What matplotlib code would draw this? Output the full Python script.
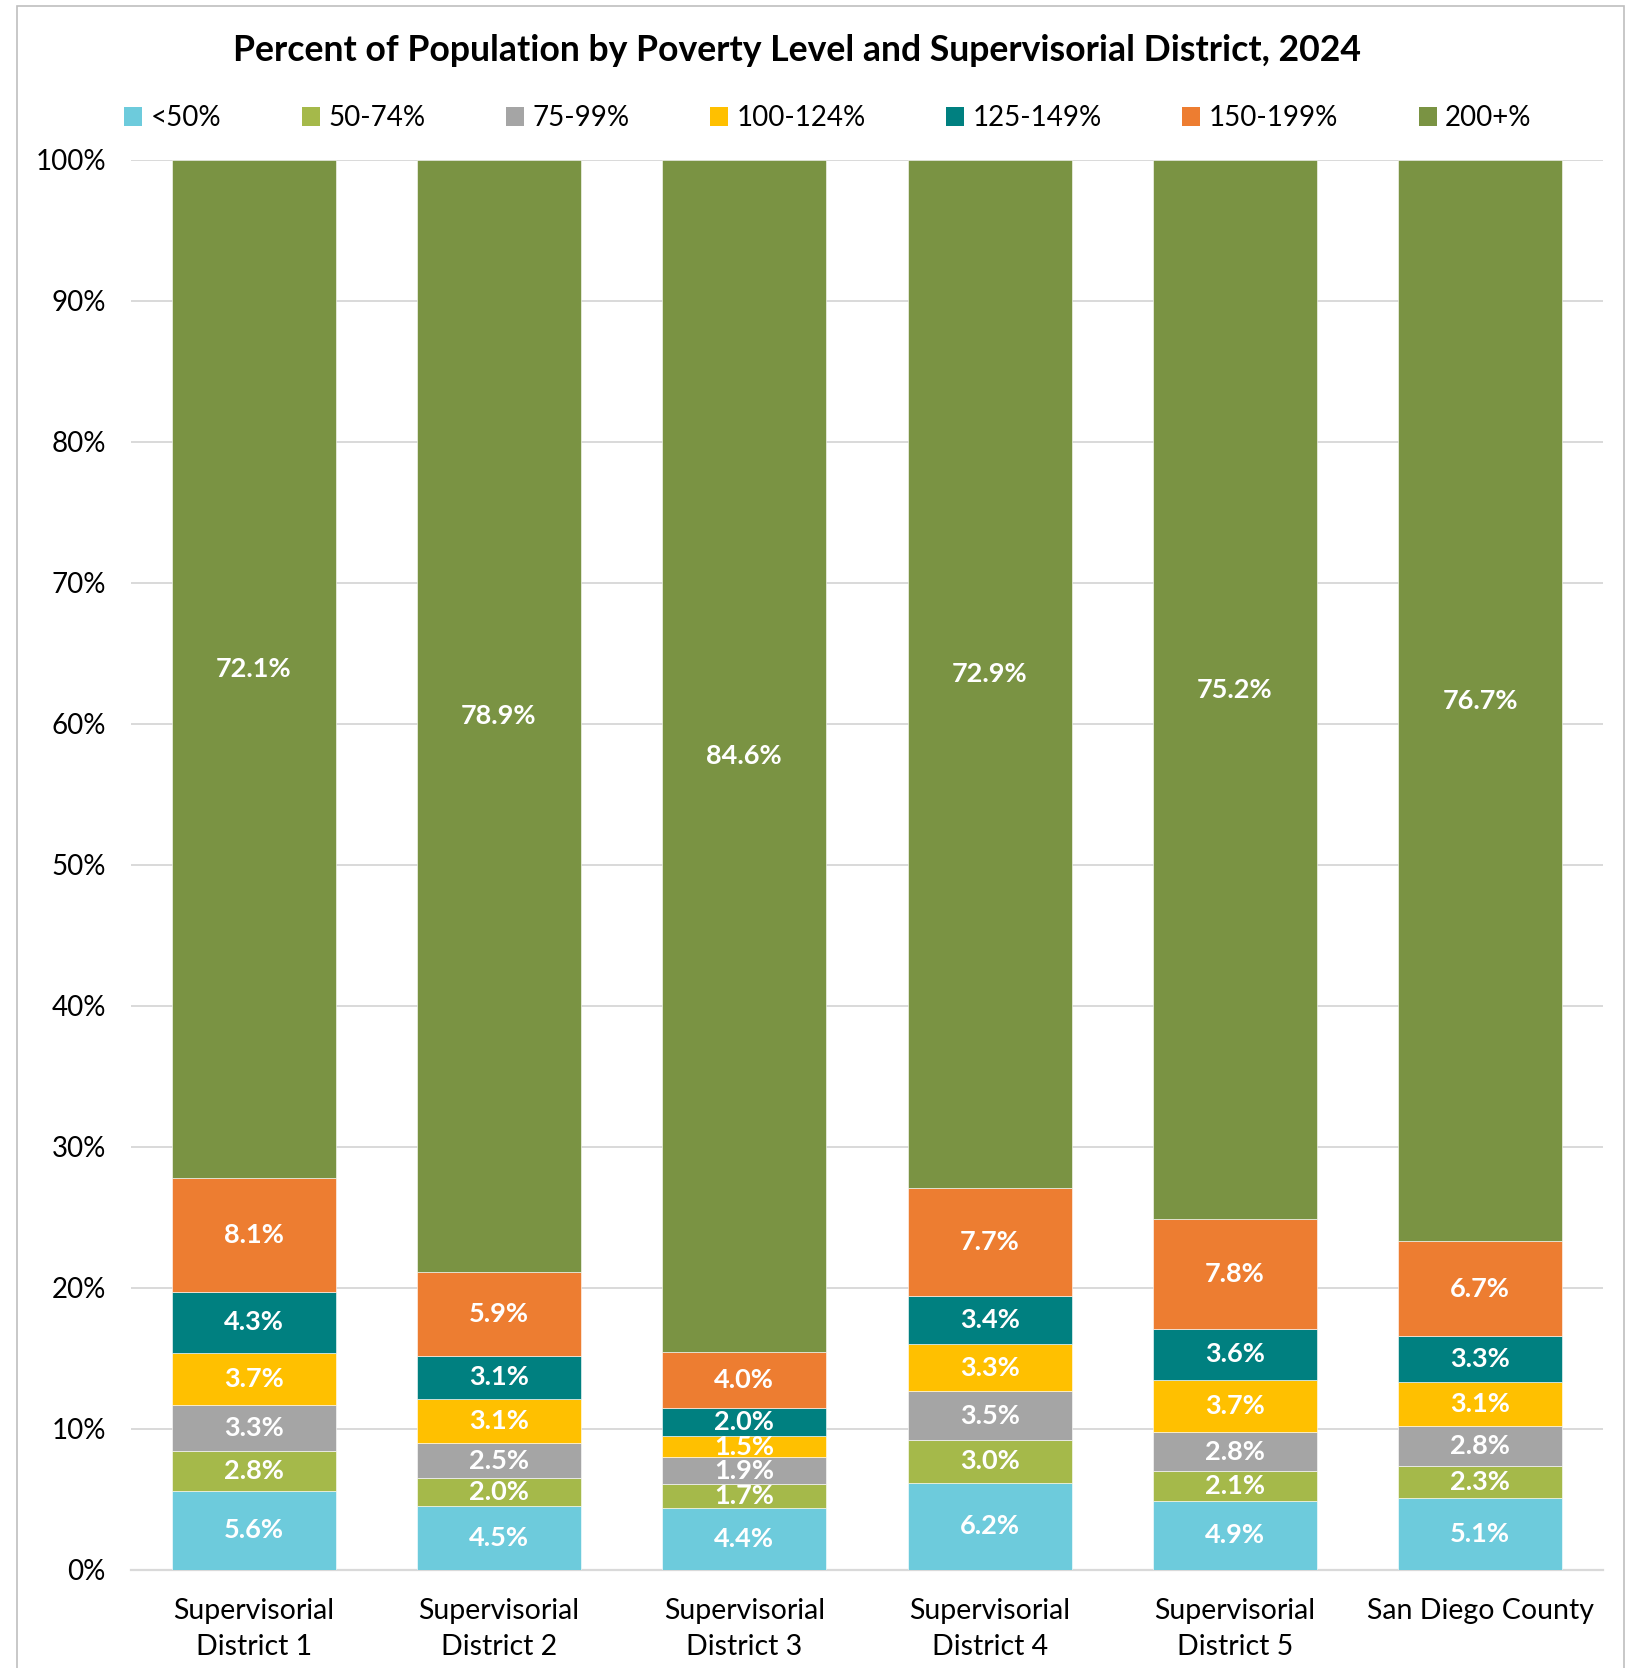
#!/usr/bin/env python3

import matplotlib
matplotlib.use('Agg')
import matplotlib.pyplot as plt
from matplotlib.patches import Patch, Rectangle
import numpy as np

################################################################################

districts = ['Supervisorial\nDistrict 1', 'Supervisorial\nDistrict 2', 'Supervisorial\nDistrict 3',
	'Supervisorial\nDistrict 4', 'Supervisorial\nDistrict 5', 'San Diego County']
levels = ['<50%', '50-74%', '75-99%', '100-124%', '125-149%', '150-199%', '200+%']

# one list per poverty level, one value per district (percent)
under_50 = [5.6, 4.5, 4.4, 6.2, 4.9, 5.1]
p50_74 = [2.8, 2.0, 1.7, 3.0, 2.1, 2.3]
p75_99 = [3.3, 2.5, 1.9, 3.5, 2.8, 2.8]
p100_124 = [3.7, 3.1, 1.5, 3.3, 3.7, 3.1]
p125_149 = [4.3, 3.1, 2.0, 3.4, 3.6, 3.3]
p150_199 = [8.1, 5.9, 4.0, 7.7, 7.8, 6.7]
p200_plus = [72.1, 78.9, 84.6, 72.9, 75.2, 76.7]

colours = ['#6DCBDC', '#A5B94A', '#A5A5A5', '#FFC000', '#008080', '#ED7D31', '#7A9343']

yticks = [0, 10, 20, 30, 40, 50, 60, 70, 80, 90, 100]
ytick_labels = ['{}%'.format(t) for t in yticks]

################################################################################

if __name__ == '__main__':

	plt.rcParams['font.family'] = ['Lato', 'DejaVu Sans']

	series = np.array([under_50, p50_74, p75_99, p100_124, p125_149, p150_199, p200_plus])
	# excel 100% stacked columns: normalise each column to its total
	shares = series / series.sum(axis = 0) * 100

	fig = plt.figure(figsize = (16.33, 16.68), dpi = 100)
	fig.patches.append(Rectangle((0.0104, -0.01), 0.984, 1.0064, transform = fig.transFigure,
		fill = False, edgecolor = '#BFBFBF', linewidth = 1.2))

	ax = fig.add_axes([0.0802, 0.0588, 0.9014, 0.8453])
	x = np.arange(len(districts))
	bottom = np.zeros(len(districts))
	for k in range(len(levels)):
		ax.bar(x, shares[k], 0.668, bottom = bottom, color = colours[k], edgecolor = 'white',
			linewidth = 0.4, label = levels[k], zorder = 3)
		for i in range(len(districts)):
			ax.text(x[i], bottom[i] + shares[k][i] / 2, '{:.1f}%'.format(series[k][i]),
				ha = 'center', va = 'center', color = 'white', fontsize = 19.5,
				fontweight = 'bold', zorder = 4)
		bottom += shares[k]

	# beautification
	ax.set_xlim(-0.5, len(districts) - 0.5)
	ax.set_ylim(0, 100)
	ax.set_yticks(yticks)
	ax.set_yticklabels(ytick_labels, fontsize = 20)
	ax.set_xticks(x)
	ax.set_xticklabels(districts, fontsize = 20.5, linespacing = 1.47)
	ax.tick_params(length = 0, pad = 18)
	ax.tick_params(axis = 'x', pad = 20)
	ax.grid(True, axis = 'y', color = '#D9D9D9', linewidth = 1.4, zorder = 0)
	for side in ['top', 'right', 'left']:
		ax.spines[side].set_visible(False)
	ax.spines['bottom'].set_color('#D9D9D9')
	ax.spines['bottom'].set_linewidth(1.6)

	fig.text(0.488, 0.970, 'Percent of Population by Poverty Level and Supervisorial District, 2024',
		ha = 'center', va = 'center', fontsize = 25.7, fontweight = 'bold')

	handles = [Patch(facecolor = c) for c in colours]
	fig.legend(handles, levels, loc = 'center', bbox_to_anchor = (0.507, 0.929), ncol = 7,
		frameon = False, fontsize = 20, handlelength = 0.65, handleheight = 0.65,
		handletextpad = 0.3, columnspacing = 2.9)

	fig.savefig('out.png', dpi = 100)
